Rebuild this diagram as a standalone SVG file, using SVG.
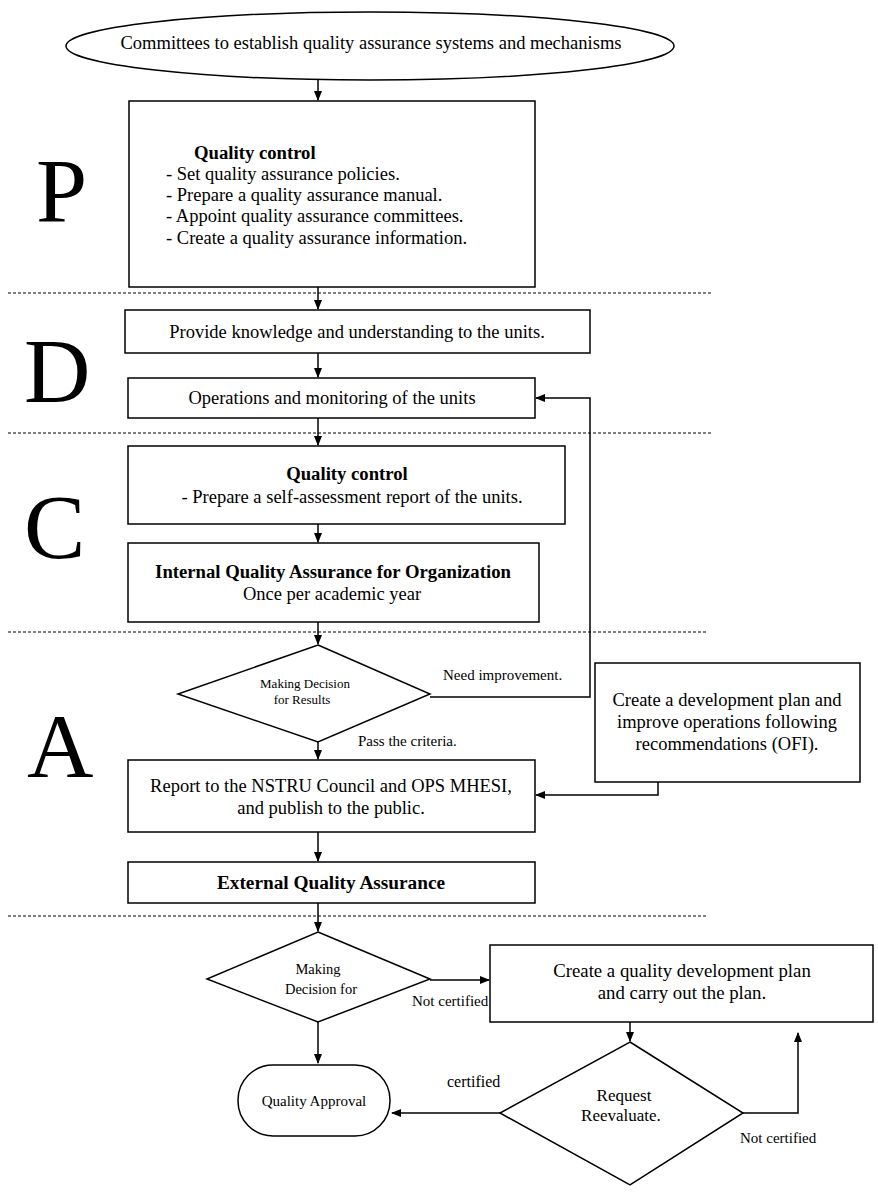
<svg xmlns="http://www.w3.org/2000/svg" width="878" height="1200" viewBox="0 0 878 1200">
<defs>
<marker id="ah" markerWidth="10" markerHeight="10" refX="9" refY="5" orient="auto" markerUnits="userSpaceOnUse">
<path d="M0,1 L10,5 L0,9 Z" fill="#000"/>
</marker>
<style>
.box{fill:#fff;stroke:#000;stroke-width:1.5}
.t{font-family:"Liberation Serif","Times New Roman",serif;font-size:18.5px;fill:#000}
.s{font-family:"Liberation Serif","Times New Roman",serif;font-size:15px;fill:#000}
.b{font-weight:bold;font-size:18.7px}
.big{font-family:"Liberation Serif","Times New Roman",serif;font-size:92px;fill:#000}
.c{text-anchor:middle}
.dash{stroke:#000;stroke-width:1.2;stroke-dasharray:3,2;fill:none}
.con{stroke:#000;stroke-width:1.5;fill:none}
</style>
</defs>
<rect width="878" height="1200" fill="#fff"/>
<g id="phases">
<text class="big" x="36" y="222">P</text>
<text class="big" x="24" y="402">D</text>
<text class="big" x="24" y="558">C</text>
<text class="big" x="27" y="777">A</text>
<line class="dash" x1="8" y1="293" x2="712" y2="293"/>
<line class="dash" x1="8" y1="433" x2="712" y2="433"/>
<line class="dash" x1="8" y1="632" x2="708" y2="632"/>
<line class="dash" x1="8" y1="916" x2="708" y2="916"/>
</g>
<g id="start">
<ellipse class="box" cx="370" cy="46" rx="304" ry="34"/>
<text class="t c" x="371" y="49">Committees to establish quality assurance systems and mechanisms</text>
</g>
<g id="plan">
<rect class="box" x="129" y="101" width="406" height="186"/>
<text class="t b" x="194" y="159">Quality control</text>
<text class="t" x="166" y="180">- Set quality assurance policies.</text>
<text class="t" x="166" y="201">- Prepare a quality assurance manual.</text>
<text class="t" x="166" y="222">- Appoint quality assurance committees.</text>
<text class="t" x="166" y="244">- Create a quality assurance information.</text>
</g>
<g id="knowledge">
<rect class="box" x="125" y="310" width="465" height="43"/>
<text class="t c" x="357" y="338">Provide knowledge and understanding to the units.</text>
</g>
<g id="operations">
<rect class="box" x="128" y="378" width="407" height="40"/>
<text class="t c" x="332" y="404">Operations and monitoring of the units</text>
</g>
<g id="selfassess">
<rect class="box" x="128" y="446" width="437" height="78"/>
<text class="t b c" x="347" y="480">Quality control</text>
<text class="t c" x="352" y="503">- Prepare a self-assessment report of the units.</text>
</g>
<g id="internal">
<rect class="box" x="128" y="543" width="411" height="79"/>
<text class="t b c" x="333" y="578">Internal Quality Assurance for Organization</text>
<text class="t c" x="332" y="600">Once per academic year</text>
</g>
<g id="decision1">
<polygon class="box" points="318,645 430,694 318,742 178,694"/>
<text class="s c" x="305" y="688" style="font-size:13px">Making Decision</text>
<text class="s c" x="302" y="704" style="font-size:13px">for Results</text>
</g>
<g id="devplan">
<rect class="box" x="595" y="663" width="265" height="119"/>
<text class="t c" x="727" y="706">Create a development plan and</text>
<text class="t c" x="727" y="728">improve operations following</text>
<text class="t c" x="727" y="750">recommendations (OFI).</text>
</g>
<g id="report">
<rect class="box" x="128" y="760" width="407" height="72"/>
<text class="t c" x="331" y="792">Report to the NSTRU Council and OPS MHESI,</text>
<text class="t c" x="331" y="814">and publish to the public.</text>
</g>
<g id="external">
<rect class="box" x="128" y="862" width="407" height="41"/>
<text class="t b c" x="331" y="889" style="font-size:19.3px">External Quality Assurance</text>
</g>
<g id="decision2">
<polygon class="box" points="318,932 430,979 318,1022 207,979"/>
<text class="s c" x="318" y="974" style="font-size:14.5px">Making</text>
<text class="s c" x="321" y="994" style="font-size:14.5px">Decision for</text>
</g>
<g id="qualplan">
<rect class="box" x="490" y="945" width="383" height="77"/>
<text class="s c" x="682" y="977" style="font-size:18.8px">Create a quality development plan</text>
<text class="s c" x="682" y="999" style="font-size:18.8px">and carry out the plan.</text>
</g>
<g id="decision3">
<polygon class="box" points="630,1042 743,1113 630,1185 500,1113"/>
<text class="s c" x="624" y="1101" style="font-size:17px">Request</text>
<text class="s c" x="621" y="1121" style="font-size:17px">Reevaluate.</text>
</g>
<g id="approval">
<rect class="box" x="238" y="1065" width="152" height="71" rx="35" ry="35"/>
<text class="s c" x="314" y="1106">Quality Approval</text>
</g>
<g id="connectors">
<line class="con" x1="318" y1="80" x2="318" y2="100" marker-end="url(#ah)"/>
<line class="con" x1="318" y1="287" x2="318" y2="309" marker-end="url(#ah)"/>
<line class="con" x1="318" y1="353" x2="318" y2="377" marker-end="url(#ah)"/>
<line class="con" x1="318" y1="418" x2="318" y2="445" marker-end="url(#ah)"/>
<line class="con" x1="318" y1="524" x2="318" y2="542" marker-end="url(#ah)"/>
<line class="con" x1="318" y1="622" x2="318" y2="644" marker-end="url(#ah)"/>
<polyline class="con" points="430,697 590,697 590,398 536,398" marker-end="url(#ah)"/>
<line class="con" x1="318" y1="742" x2="318" y2="759" marker-end="url(#ah)"/>
<polyline class="con" points="658,782 658,795 536,795" marker-end="url(#ah)"/>
<line class="con" x1="318" y1="832" x2="318" y2="861" marker-end="url(#ah)"/>
<line class="con" x1="318" y1="903" x2="318" y2="931" marker-end="url(#ah)"/>
<line class="con" x1="430" y1="980" x2="489" y2="980" marker-end="url(#ah)"/>
<line class="con" x1="318" y1="1022" x2="318" y2="1063" marker-end="url(#ah)"/>
<line class="con" x1="630" y1="1022" x2="630" y2="1041" marker-end="url(#ah)"/>
<line class="con" x1="500" y1="1113" x2="392" y2="1113" marker-end="url(#ah)"/>
<polyline class="con" points="743,1113 798,1113 798,1033" marker-end="url(#ah)"/>
<text class="s" x="443" y="680">Need improvement.</text>
<text class="s" x="358" y="746">Pass the criteria.</text>
<text class="s" x="412" y="1006">Not certified</text>
<text class="s" x="447" y="1087" style="font-size:16px">certified</text>
<text class="s" x="740" y="1143">Not certified</text>
</g>
</svg>
